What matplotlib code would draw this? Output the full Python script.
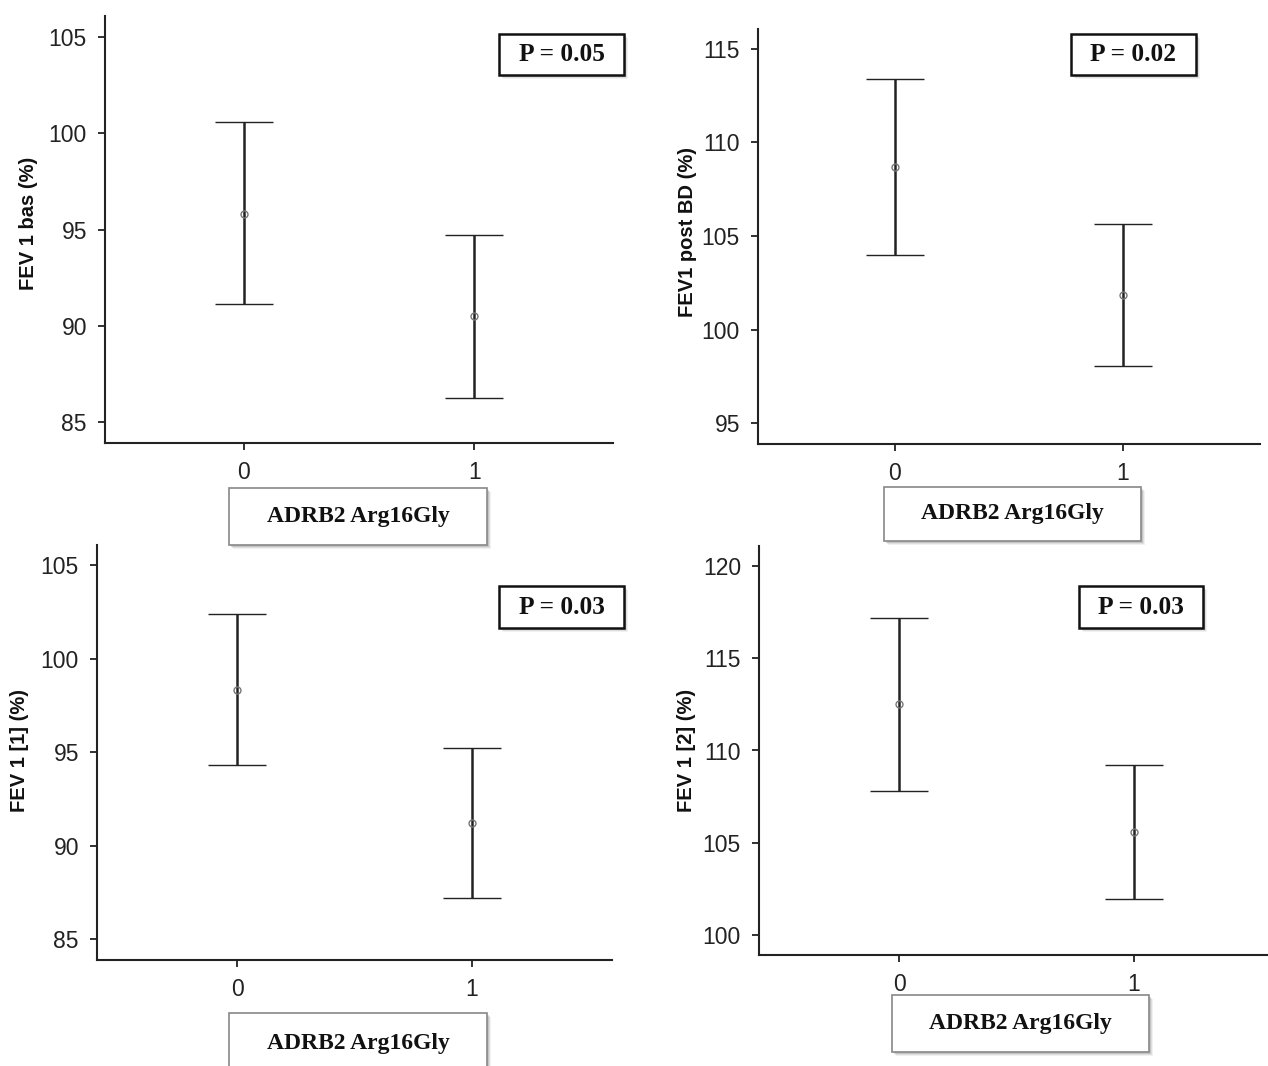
import matplotlib
matplotlib.use("Agg")
import matplotlib.pyplot as plt
from matplotlib.patches import Rectangle

# ---- data ----
groups = [0, 1]
group_labels = ["0", "1"]
xlabel_text = "ADRB2 Arg16Gly"

bas_mean = [95.82, 90.50]
bas_low = [91.11, 86.24]
bas_high = [100.57, 94.71]

post_mean = [108.67, 101.86]
post_low = [103.99, 98.08]
post_high = [113.38, 105.65]

f1_mean = [98.35, 91.20]
f1_low = [94.30, 87.21]
f1_high = [102.40, 95.22]

f2_mean = [112.50, 105.58]
f2_low = [107.81, 101.93]
f2_high = [117.19, 109.23]

ylabels = ["FEV 1 bas (%)", "FEV1 post BD (%)", "FEV 1 [1] (%)", "FEV 1 [2] (%)"]
pvalues = ["P = 0.05", "P = 0.02", "P = 0.03", "P = 0.03"]
yticks_list = [[85, 90, 95, 100, 105], [95, 100, 105, 110, 115],
               [85, 90, 95, 100, 105], [100, 105, 110, 115, 120]]
ylims = [(83.9, 106.1), (93.9, 116.05), (83.92, 106.08), (98.9, 121.1)]

W, H = 1268, 1066
fig = plt.figure(figsize=(W / 100, H / 100), dpi=100)
fig.patch.set_facecolor("white")

NARROW = ["Liberation Sans Narrow", "Liberation Sans", "DejaVu Sans"]
SERIF = ["Liberation Serif", "DejaVu Serif"]

# layout in pixels: left, top, width, height
panels = [
    dict(px=(105, 16, 508, 427), mean=bas_mean, lo=bas_low, hi=bas_high,
         ylx=-0.150, yly=0.515, pbox=(499, 34, 624, 75), xbox=(229, 488, 487, 545)),
    dict(px=(758, 29, 502, 415), mean=post_mean, lo=post_low, hi=post_high,
         ylx=-0.141, yly=0.51, pbox=(1071, 34, 1196, 75), xbox=(884, 487, 1141, 541)),
    dict(px=(97, 545, 515, 414.5), mean=f1_mean, lo=f1_low, hi=f1_high,
         ylx=-0.151, yly=0.505, pbox=(499, 586, 624, 628), xbox=(229, 1013, 487, 1075)),
    dict(px=(759, 546, 515, 409), mean=f2_mean, lo=f2_low, hi=f2_high,
         ylx=-0.140, yly=0.5, pbox=(1079, 586, 1203, 628), xbox=(892, 995, 1149, 1052)),
]


def add_box(x0, y0, x1, y1, text, edge, lw, fs):
    # shadow (soft, offset down-right)
    for k, a in [(4, 0.10), (3, 0.15), (2, 0.25)]:
        fig.patches.append(Rectangle(((x0 + k) / W, 1 - (y1 + k) / H),
                                     (x1 - x0) / W, (y1 - y0) / H,
                                     transform=fig.transFigure, facecolor="#777777",
                                     edgecolor="none", alpha=a, zorder=1))
    fig.patches.append(Rectangle((x0 / W, 1 - y1 / H), (x1 - x0) / W, (y1 - y0) / H,
                                 transform=fig.transFigure, facecolor="white",
                                 edgecolor=edge, linewidth=lw, zorder=2))
    fig.text((x0 + x1) / 2 / W, 1 - (y0 + y1) / 2 / H, text, ha="center", va="center",
             family=SERIF, fontweight="bold", fontsize=fs, color="#111111", zorder=3)


for i, p in enumerate(panels):
    l, t, w, h = p["px"]
    ax = fig.add_axes([l / W, 1 - (t + h) / H, w / W, h / H])
    ax.set_facecolor("none")
    m = p["mean"]
    yerr = [[m[j] - p["lo"][j] for j in range(2)], [p["hi"][j] - m[j] for j in range(2)]]
    ax.errorbar(groups, m, yerr=yerr, fmt="o", mfc="none", mec="#777777", mew=1.0,
                ms=5, ecolor="#222222", elinewidth=1.8, capsize=21, capthick=1.8,
                zorder=3)
    ax.set_xlim(-0.6, 1.6)
    ax.set_ylim(*ylims[i])
    ax.set_xticks(groups)
    ax.set_xticklabels(group_labels)
    ax.set_yticks(yticks_list[i])
    for s in ["top", "right"]:
        ax.spines[s].set_visible(False)
    for s in ["left", "bottom"]:
        ax.spines[s].set_linewidth(1.5)
        ax.spines[s].set_color("#222222")
    ax.tick_params(axis="both", length=5, width=1.3, color="#222222", pad=8,
                   labelsize=16.5, labelcolor="#222222")
    for lab in ax.get_xticklabels() + ax.get_yticklabels():
        lab.set_family(NARROW)
    ax.set_ylabel(ylabels[i], family=NARROW, fontweight="bold", fontsize=14.5,
                  color="#111111")
    ax.yaxis.label.set_va("center")
    ax.yaxis.set_label_coords(p["ylx"], p["yly"])

    add_box(*p["pbox"], pvalues[i], "#111111", 1.8, 18.3)
    add_box(*p["xbox"], xlabel_text, "#888888", 1.2, 17)

fig.savefig("out.png", dpi=100, facecolor="white")
